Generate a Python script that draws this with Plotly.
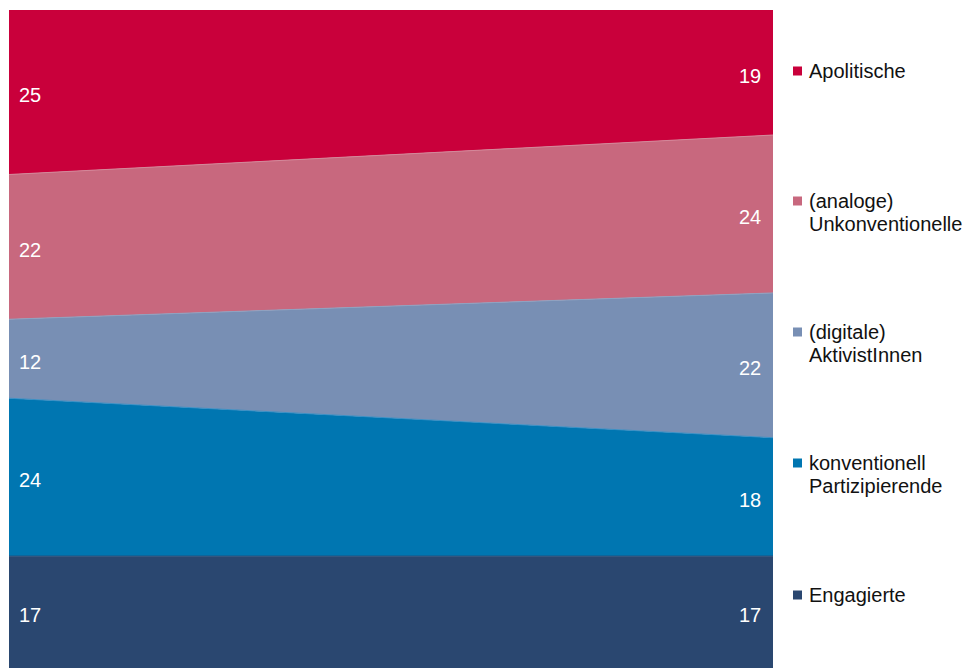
import plotly.graph_objects as go

x_pos = [0, 1]
series_names = ["Engagierte", "konventionell Partizipierende", "(digitale) AktivistInnen",
                "(analoge) Unkonventionelle", "Apolitische"]
legend_lines = [["Engagierte"], ["konventionell", "Partizipierende"], ["(digitale)", "AktivistInnen"],
                ["(analoge)", "Unkonventionelle"], ["Apolitische"]]
engagierte = [17, 17]
konventionell = [24, 18]
digitale = [12, 22]
analoge = [22, 24]
apolitische = [25, 19]
values = [engagierte, konventionell, digitale, analoge, apolitische]
colors = ["#2A4770", "#0076B1", "#788FB4", "#C8687E", "#C9003B"]
line_colors = ["#2A4770", "#3a8fc4", "#8ea2c1", "#d3899a", "#C9003B"]

FONT = "Liberation Sans, Arial, sans-serif"

fig = go.Figure()
for name, vals, col, lc in zip(series_names, values, colors, line_colors):
    fig.add_trace(go.Scatter(
        x=x_pos, y=vals, name=name, mode="lines", stackgroup="one",
        fillcolor=col, line=dict(color=lc, width=1), hoverinfo="skip"
    ))

# data labels centered in each band
cum = [0, 0]
for vals in values:
    for i in range(2):
        mid = cum[i] + vals[i] / 2
        fig.add_annotation(
            x=x_pos[i], y=mid, xref="x", yref="y", text=str(vals[i]), showarrow=False,
            xanchor="left" if i == 0 else "right", yanchor="middle",
            xshift=8 if i == 0 else -10, yshift=-3,
            font=dict(family=FONT, size=20, color="white"))
    cum = [cum[0] + vals[0], cum[1] + vals[1]]

# custom legend
PLOT_TOP, PLOT_H = 10, 658
legend_square_y = [595, 463, 332, 201, 71]
for lines, col, sy in zip(legend_lines, colors, legend_square_y):
    py = (PLOT_TOP + PLOT_H - sy) / PLOT_H
    fig.add_shape(type="rect", xref="paper", yref="paper",
                  x0=(793 - 9) / 764, x1=(802 - 9) / 764,
                  y0=py - 4.5 / PLOT_H, y1=py + 4.5 / PLOT_H,
                  fillcolor=col, line=dict(width=0))
    for k, ln in enumerate(lines):
        fig.add_annotation(
            x=(807 - 9) / 764, y=py, xref="paper", yref="paper", text=ln, showarrow=False,
            xanchor="left", yanchor="middle", yshift=-23 * k,
            font=dict(family=FONT, size=20, color="#111111"))

fig.update_layout(
    width=969, height=668,
    margin=dict(l=9, r=196, t=10, b=0),
    paper_bgcolor="white", plot_bgcolor="white",
    showlegend=False,
    xaxis=dict(range=[0, 1], visible=False, fixedrange=True),
    yaxis=dict(range=[0, 100], visible=False, fixedrange=True),
)

fig.write_html("out.html", config={"displayModeBar": False})
